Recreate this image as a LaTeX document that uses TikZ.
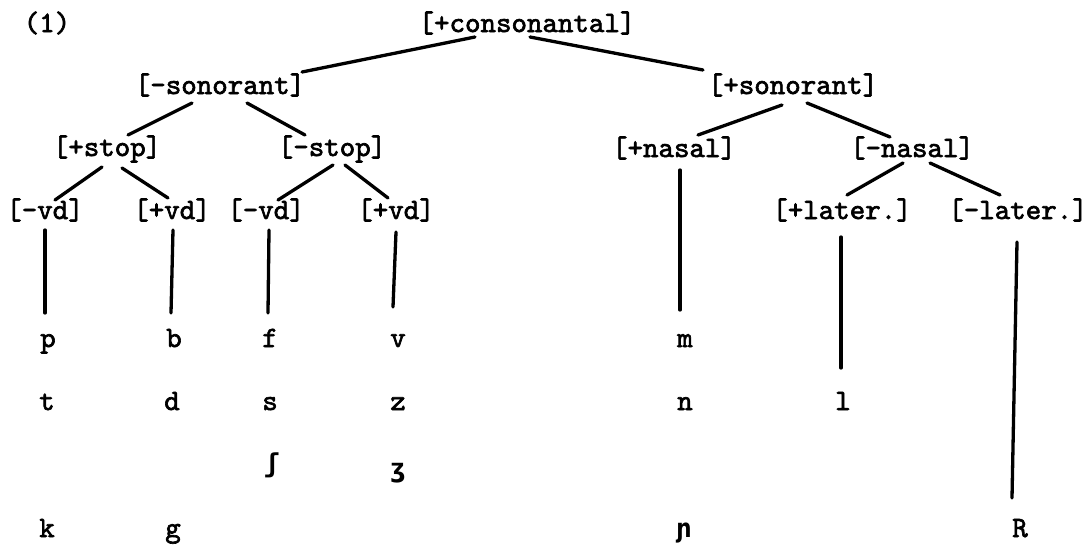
\documentclass[tikz,border=0pt]{standalone}
\usepackage{fontspec}
\newfontfamily\twfont{lmmono10-regular.otf}[FakeBold=2.2]
\newfontfamily\ipafont{DejaVu Sans Mono}
\usetikzlibrary{calc}
\begin{document}
\begin{tikzpicture}[x=1pt,y=-1pt,
  lbl/.style={anchor=base,inner sep=0pt,font=\fontsize{29.5pt}{34pt}\selectfont\twfont},
  ipa/.style={anchor=base,inner sep=0pt,font=\fontsize{26pt}{30pt}\selectfont\ipafont\bfseries},
  edge/.style={line width=3.3pt,line cap=round}]
\fill[white] (0,0) rectangle (1090,552);
\useasboundingbox (0,0) rectangle (1090,552);
% tree nodes
\node[lbl] (num)   at (47,32)   {(1)};
\node[lbl] (cons)  at (527,32)  {[+consonantal]};
\node[lbl] (sonm)  at (220,94)  {[-sonorant]};
\node[lbl] (sonp)  at (793,94)  {[+sonorant]};
\node[lbl] (stopp) at (107,156) {[+stop]};
\node[lbl] (stopm) at (332,156) {[-stop]};
\node[lbl] (nasp)  at (674,157) {[+nasal]};
\node[lbl] (nasm)  at (912,157) {[-nasal]};
\node[lbl] (vda)   at (45,219)  {[-vd]};
\node[lbl] (vdb)   at (172,219) {[+vd]};
\node[lbl] (vdc)   at (266,219) {[-vd]};
\node[lbl] (vdd)   at (396,219) {[+vd]};
\node[lbl] (latp)  at (842,219) {[+later.]};
\node[lbl] (latm)  at (1018,219){[-later.]};
% leaves
\node[lbl] (p) at (48,347)  {p};
\node[lbl] (t) at (47,410)  {t};
\node[lbl] (k) at (47,537)  {k};
\node[lbl] (b) at (174,347) {b};
\node[lbl] (d) at (172,410) {d};
\node[lbl] (g) at (173,537) {g};
\node[lbl] (f) at (270,347) {f};
\node[lbl] (s) at (270,410) {s};
\node[ipa] (esh) at (272,472) {ʃ};
\node[lbl] (v) at (398,347) {v};
\node[lbl] (z) at (398,410) {z};
\node[ipa] (ezh) at (398,477) {ʒ};
\node[lbl] (m) at (685,347) {m};
\node[lbl] (n) at (685,410) {n};
\node[ipa] (ny) at (683,537) {ɲ};
\node[lbl] (l) at (843,410) {l};
\node[lbl] (R) at (1020,537) {R};
% tree edges
\draw[edge] ($(cons.base)+(-52,5)$) -- ($(sonm.base)+(82,-22)$);
\draw[edge] ($(cons.base)+(3,5)$) -- ($(sonp.base)+(-90,-24)$);
\draw[edge] ($(sonm.base)+(-28,9)$) -- ($(stopp.base)+(21,-21)$);
\draw[edge] ($(sonm.base)+(27,9)$) -- ($(stopm.base)+(-27,-21)$);
\draw[edge] ($(stopp.base)+(-5,11)$) -- ($(vda.base)+(10,-19)$);
\draw[edge] ($(stopp.base)+(15,12)$) -- ($(vdb.base)+(-4,-21)$);
\draw[edge] ($(stopm.base)+(1,9)$) -- ($(vdc.base)+(12,-19)$);
\draw[edge] ($(stopm.base)+(13,9)$) -- ($(vdd.base)+(-8,-21)$);
\draw[edge] ($(sonp.base)+(-11,11)$) -- ($(nasp.base)+(24,-22)$);
\draw[edge] ($(sonp.base)+(14,9)$) -- ($(nasm.base)+(-22,-20)$);
\draw[edge] ($(nasm.base)+(-9,6)$) -- ($(latp.base)+(5,-24)$);
\draw[edge] ($(nasm.base)+(18,6)$) -- ($(latm.base)+(-18,-24)$);
% vertical links
\draw[edge] ($(vda.base)+(0,11)$) -- ($(p.base)+(-3,-34)$);
\draw[edge] ($(vdb.base)+(1,11)$) -- ($(b.base)+(-3,-34)$);
\draw[edge] ($(vdc.base)+(3,11)$) -- ($(f.base)+(-2,-34)$);
\draw[edge] ($(vdd.base)+(0,13)$) -- ($(v.base)+(-5,-40)$);
\draw[edge] ($(nasp.base)+(6,13)$) -- ($(m.base)+(-5,-37)$);
\draw[edge] ($(latp.base)+(-1,18)$) -- ($(l.base)+(-2,-42)$);
\draw[edge] ($(latm.base)+(-1,23)$) -- ($(R.base)+(-8,-39)$);
\end{tikzpicture}
\end{document}
